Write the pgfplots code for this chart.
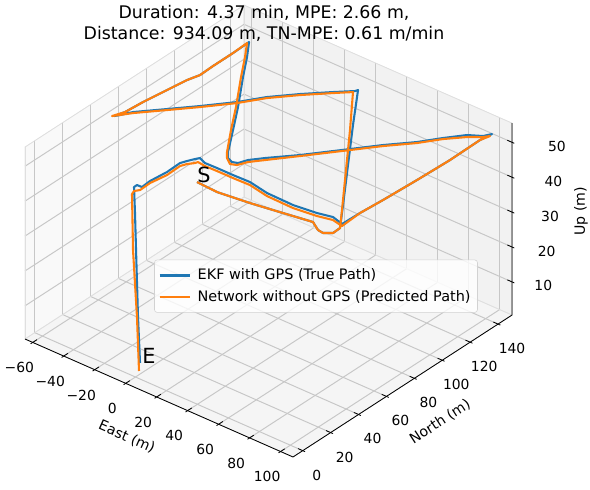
\documentclass[border=0pt]{standalone}
\usepackage{fontspec}
\setmainfont{DejaVu Sans}
\usepackage{pgfplots}
\pgfplotsset{compat=1.18}
\definecolor{mplblue}{HTML}{1F77B4}
\definecolor{mplorange}{HTML}{FF7F0E}
\definecolor{paneX}{gray}{0.975}
\definecolor{paneY}{gray}{0.95}
\definecolor{paneZ}{gray}{0.9625}
\definecolor{gridc}{gray}{0.78}
\begin{document}
\begin{tikzpicture}
\begin{axis}[
  set layers,
  x={(1.1153pt,-0.4910pt)}, y={(1.0044pt,0.6509pt)}, z={(0pt,2.5128pt)},
  xmin=-65, xmax=108, ymin=-7, ymax=150, zmin=0.5, zmax=55.5,
  clip=false,
  grid=major,
  grid style={gridc, line width=0.7pt},
  axis line style={gray!25, line width=0.5pt},
  major tick length=0pt,
  xtick={-60,-40,...,100}, xticklabels={−60,−40,−20,0,20,40,60,80,100},
  ytick={0,20,...,140}, yticklabels={0,20,40,60,80,100,120,140},
  ztick={10,20,...,50},
  zticklabel pos=right,
  /pgf/number format/assume math mode=true,
  zticklabel={\pgfmathparse{(\tick-30)*0.49}\hspace*{\pgfmathresult pt}\pgfmathprintnumber{\tick}},
  tick label style={font=\fontsize{10}{12}\selectfont},
  xticklabel style={anchor=center, xshift=-9.7pt, yshift=-18.2pt},
  yticklabel style={anchor=center, xshift=10.1pt, yshift=-17.6pt},
  zticklabel style={anchor=center, xshift=27.4pt, yshift=-2.9pt},
  xlabel={East (m)}, ylabel={North (m)}, zlabel={Up (m)},
  every axis x label/.style={at={(axis cs:32.3,-42,0.5)}, anchor=center, rotate=-23.8, font=\fontsize{10.2}{12}\selectfont},
  every axis y label/.style={at={(axis cs:143.8,58.7,0.5)}, anchor=center, rotate=33, font=\fontsize{10.2}{12}\selectfont},
  every axis z label/.style={at={(axis cs:133.9,170.7,30)}, anchor=center, rotate=90, font=\fontsize{10.2}{12}\selectfont},
  legend cell align=left,
  legend style={at={(axis description cs:0.5975,0.378)}, anchor=center, draw=gray!35, rounded corners=2pt, fill=white, fill opacity=0.8, text opacity=1, font=\fontsize{10.4}{12.5}\selectfont, row sep=2pt, inner xsep=3pt, inner ysep=4.5pt, /tikz/every odd column/.append style={column sep=3pt}},
  legend image code/.code={\draw[#1] (0pt,0pt) -- (21.6pt,0pt);},
  unbounded coords=jump,
]
% panes
\addplot3[on layer=axis background, fill=paneX, draw=gray!20, forget plot] coordinates {(-65,-7,0.5) (-65,150,0.5) (-65,150,55.5) (-65,-7,55.5) (-65,-7,0.5)};
\addplot3[on layer=axis background, fill=paneY, draw=gray!20, forget plot] coordinates {(-65,150,0.5) (108,150,0.5) (108,150,55.5) (-65,150,55.5) (-65,150,0.5)};
\addplot3[on layer=axis background, fill=paneZ, draw=gray!20, forget plot] coordinates {(-65,-7,0.5) (108,-7,0.5) (108,150,0.5) (-65,150,0.5) (-65,-7,0.5)};
% axis lines
\addplot3[black, line width=0.6pt, forget plot] coordinates {(-65,-7,0.5) (108,-7,0.5) (108,150,0.5) (108,150,55.5)};
% tick marks (x ticks along y, y and z ticks along x)
\addplot3[black, line width=0.6pt, forget plot] coordinates {
(-60,-4,0.5) (-60,-8.5,0.5) (nan,nan,nan)
(-40,-4,0.5) (-40,-8.5,0.5) (nan,nan,nan)
(-20,-4,0.5) (-20,-8.5,0.5) (nan,nan,nan)
(0,-4,0.5) (0,-8.5,0.5) (nan,nan,nan)
(20,-4,0.5) (20,-8.5,0.5) (nan,nan,nan)
(40,-4,0.5) (40,-8.5,0.5) (nan,nan,nan)
(60,-4,0.5) (60,-8.5,0.5) (nan,nan,nan)
(80,-4,0.5) (80,-8.5,0.5) (nan,nan,nan)
(100,-4,0.5) (100,-8.5,0.5) (nan,nan,nan)
(105,0,0.5) (109.5,0,0.5) (nan,nan,nan)
(105,20,0.5) (109.5,20,0.5) (nan,nan,nan)
(105,40,0.5) (109.5,40,0.5) (nan,nan,nan)
(105,60,0.5) (109.5,60,0.5) (nan,nan,nan)
(105,80,0.5) (109.5,80,0.5) (nan,nan,nan)
(105,100,0.5) (109.5,100,0.5) (nan,nan,nan)
(105,120,0.5) (109.5,120,0.5) (nan,nan,nan)
(105,140,0.5) (109.5,140,0.5) (nan,nan,nan)
(105,150,10) (109.5,150,10) (nan,nan,nan)
(105,150,20) (109.5,150,20) (nan,nan,nan)
(105,150,30) (109.5,150,30) (nan,nan,nan)
(105,150,40) (109.5,150,40) (nan,nan,nan)
(105,150,50) (109.5,150,50)
};
\coordinate (A) at (axis cs:-65,-7,0.5);

\addplot3[mplblue, line width=1.5pt, line join=round] table {
x y z
10.49 32.47 50
24.11 31.69 50
43.32 34.01 50
61.94 37.00 50
78.81 39.77 50
85.47 35.95 50
89.17 35.43 50
93.02 38.33 50
92.75 43.65 50
80.26 59.67 50
58.45 87.46 50
36.65 115.25 50
17.82 139.76 50
17.25 138.23 50
9.40 131.19 50
-2.11 120.30 50
-13.02 108.76 50
-21.58 96.76 50
-33.43 83.40 50
-44.34 71.85 50
-55.62 60.02 50
-58.84 54.27 50
-60.56 51.87 50
-58.70 57.70 50
-57.71 69.50 50
-55.61 84.37 50
-53.85 96.75 50
-51.82 103.81 50
-52.16 113.51 50
-52.18 127.87 50
-52.55 139.76 50
-44.42 129.30 50
-34.10 114.97 50
-18.23 93.76 50
-6.51 77.16 50
4.61 61.22 50
8.17 57.27 50
12.08 55.80 50
14.99 56.88 50
17.05 61.75 50
22.40 68.00 50
34.07 80.13 50
49.73 98.58 50
60.05 110.78 50
71.33 122.62 50
78.96 132.79 50
86.40 141.73 50
93.15 145.71 50
95.42 149.64 50
94.36 142.21 50
94.70 120.33 50
93.87 97.59 50
92.67 74.56 50
91.53 59.33 50
91.13 46.86 50
83.53 48.86 50
75.00 46.86 50
61.04 45.17 50
43.92 45.53 50
30.86 47.84 50
20.18 47.52 50
9.87 47.50 50
2.30 47.31 50
-2.59 49.15 50
-3.92 47.04 50
-5.81 43.41 50
-7.31 40.06 50
-6.98 30.36 50
-8.17 19.50 50
-7.69 13.23 50
-10.80 13.10 50
-10.76 10.91 50
-10.10 10.89 42.7
-9.28 10.72 32.3
-7.70 10.38 13.5
-6.34 10.32 0.6
};
\addlegendentry{EKF with GPS (True Path)}

\addplot3[mplorange, line width=1.5pt, line join=round] table {
x y z
10.49 32.47 50
24.11 31.69 50
43.32 34.01 50
61.94 37.00 50
78.81 39.77 50
85.47 35.95 50
89.17 35.43 50
93.02 38.33 50
92.75 43.65 50
82.83 56.08 50
60.65 83.59 50
38.46 111.09 50
17.08 136.99 50
9.99 130.53 50
-1.52 119.64 50
-12.43 108.10 50
-20.99 96.10 50
-32.84 82.74 50
-43.75 71.19 50
-55.03 59.36 50
-61.33 51.29 50
-58.70 57.70 50
-57.71 69.50 50
-55.61 84.37 50
-53.85 96.75 50
-51.82 103.81 50
-52.16 113.51 50
-52.18 127.87 50
-52.73 138.52 50
-45.19 128.72 50
-34.87 114.39 50
-19.00 93.18 50
-7.28 76.58 50
4.23 60.93 50
7.79 56.98 50
12.50 53.90 50
15.78 55.27 50
18.23 60.44 50
23.59 66.68 50
34.66 79.47 50
50.33 97.92 50
60.64 110.12 50
71.92 121.96 50
79.55 132.13 50
87.58 140.41 50
93.74 145.05 50
95.84 147.74 50
94.36 142.21 50
94.70 120.33 50
93.87 97.59 50
92.67 74.56 50
91.53 59.33 50
92.32 45.55 50
85.31 46.89 50
76.78 44.88 50
62.81 43.19 50
45.70 43.55 50
32.64 45.87 50
21.96 45.55 50
11.65 45.52 50
4.07 45.33 50
-0.99 45.94 50
-1.54 44.41 50
-4.03 41.43 50
-5.54 38.08 50
-5.20 28.38 50
-6.98 18.19 50
-6.67 10.68 50
-8.39 8.28 50
-7.38 5.72 50
-6.09 5.02 34.4
-3.62 5.12 15.66
-1.99 4.76 0.6
};
\addlegendentry{Network without GPS (Predicted Path)}

\node[anchor=base west, inner sep=0pt, font=\fontsize{15}{18}\selectfont] at (axis cs:10.49,32.47,50) {S};
\node[anchor=base west, inner sep=0pt, xshift=1.5pt, font=\fontsize{15}{18}\selectfont] at (axis cs:-6.34,10.32,0.6) {E};
\end{axis}
\begin{scope}[shift={(A)}, x=0.72pt, y=-0.72pt]
\node[anchor=base, inner sep=0pt, font=\fontsize{12.5}{15}\selectfont] at (239,-320.5) {Duration: 4.37 min, MPE: 2.66 m,};
\node[anchor=base, inner sep=0pt, font=\fontsize{12.5}{15}\selectfont] at (239,-300) {Distance: 934.09 m, TN-MPE: 0.61 m/min};
\end{scope}
\pgfresetboundingbox
\path[use as bounding box, shift={(A)}, x=0.72pt, y=-0.72pt] (-25,-339) rectangle (565,150);
\end{tikzpicture}
\end{document}
